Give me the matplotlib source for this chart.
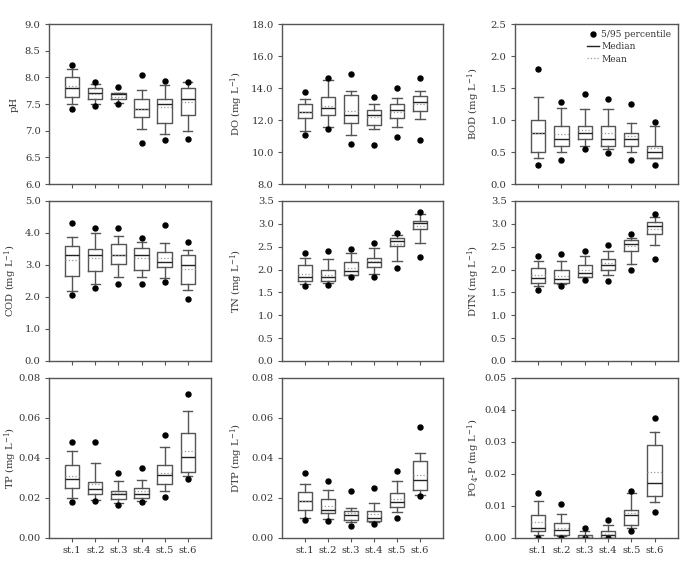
import numpy as np
import matplotlib.pyplot as plt
from matplotlib.lines import Line2D
from matplotlib.ticker import MultipleLocator, FormatStrFormatter

plt.rcParams["font.family"] = "DejaVu Serif"
plt.rcParams["mathtext.fontset"] = "dejavuserif"

STATIONS = ["st.1", "st.2", "st.3", "st.4", "st.5", "st.6"]

# each row: whisker low, q1, median, q3, whisker high, mean, 5th pct, 95th pct
ph = [
    [7.50, 7.64, 7.80, 8.00, 8.16, 7.84, 7.41, 8.24],
    [7.50, 7.60, 7.70, 7.80, 7.88, 7.68, 7.47, 7.91],
    [7.52, 7.60, 7.69, 7.70, 7.70, 7.64, 7.50, 7.81],
    [7.04, 7.25, 7.40, 7.60, 7.76, 7.41, 6.76, 8.04],
    [6.94, 7.15, 7.50, 7.60, 7.86, 7.44, 6.82, 7.94],
    [7.00, 7.30, 7.60, 7.80, 7.92, 7.54, 6.85, 7.92],
]
do = [
    [11.33, 12.13, 12.50, 13.00, 13.33, 12.50, 11.04, 13.75],
    [11.58, 12.29, 12.75, 13.46, 14.50, 12.88, 11.46, 14.63],
    [11.08, 11.79, 12.29, 13.54, 13.79, 12.54, 10.50, 14.88],
    [11.46, 11.71, 12.33, 12.63, 13.00, 12.21, 10.46, 13.46],
    [11.58, 12.13, 12.63, 13.00, 13.38, 12.50, 10.92, 14.00],
    [12.04, 12.54, 13.13, 13.50, 13.83, 13.00, 10.75, 14.63],
]
bod = [
    [0.40, 0.50, 0.80, 1.00, 1.36, 0.80, 0.30, 1.80],
    [0.50, 0.60, 0.70, 0.90, 1.18, 0.78, 0.375, 1.28],
    [0.60, 0.70, 0.80, 0.90, 1.17, 0.85, 0.55, 1.41],
    [0.55, 0.60, 0.70, 0.90, 1.17, 0.79, 0.48, 1.33],
    [0.50, 0.60, 0.70, 0.80, 0.96, 0.75, 0.375, 1.25],
    [0.40, 0.40, 0.50, 0.60, 0.90, 0.56, 0.30, 0.97],
]
cod = [
    [2.18, 2.65, 3.30, 3.59, 3.87, 3.17, 2.05, 4.31],
    [2.42, 2.80, 3.30, 3.50, 4.00, 3.21, 2.29, 4.15],
    [2.62, 3.04, 3.30, 3.65, 3.90, 3.30, 2.39, 4.15],
    [2.63, 2.85, 3.30, 3.54, 3.71, 3.21, 2.39, 3.83],
    [2.60, 2.94, 3.09, 3.40, 3.69, 3.21, 2.47, 4.26],
    [2.23, 2.39, 3.00, 3.30, 3.46, 2.88, 1.94, 3.71],
]
tn = [
    [1.68, 1.74, 1.84, 2.09, 2.26, 1.91, 1.65, 2.37],
    [1.70, 1.75, 1.83, 2.00, 2.22, 1.88, 1.67, 2.40],
    [1.87, 1.88, 1.97, 2.16, 2.36, 2.04, 1.83, 2.45],
    [1.90, 2.06, 2.16, 2.26, 2.47, 2.19, 1.84, 2.58],
    [2.18, 2.51, 2.63, 2.69, 2.76, 2.55, 2.04, 2.79],
    [2.57, 2.89, 3.02, 3.06, 3.21, 2.95, 2.27, 3.25],
]
dtn = [
    [1.64, 1.71, 1.81, 2.03, 2.18, 1.87, 1.56, 2.30],
    [1.69, 1.71, 1.80, 1.99, 2.18, 1.86, 1.64, 2.33],
    [1.83, 1.84, 1.93, 2.10, 2.29, 1.99, 1.78, 2.40],
    [1.87, 2.00, 2.10, 2.23, 2.41, 2.15, 1.76, 2.54],
    [2.13, 2.41, 2.56, 2.64, 2.70, 2.51, 1.99, 2.77],
    [2.54, 2.78, 2.96, 3.03, 3.14, 2.89, 2.22, 3.22],
]
tp = [
    [0.0200, 0.0252, 0.0293, 0.0363, 0.0437, 0.0310, 0.0180, 0.0482],
    [0.0192, 0.0222, 0.0247, 0.0280, 0.0377, 0.0272, 0.0187, 0.0482],
    [0.0177, 0.0197, 0.0222, 0.0235, 0.0285, 0.0227, 0.0163, 0.0327],
    [0.0185, 0.0202, 0.0222, 0.0250, 0.0288, 0.0233, 0.0180, 0.0350],
    [0.0235, 0.0272, 0.0313, 0.0367, 0.0455, 0.0327, 0.0205, 0.0517],
    [0.0312, 0.0332, 0.0403, 0.0527, 0.0637, 0.0433, 0.0293, 0.0722],
]
dtp = [
    [0.0098, 0.0142, 0.0183, 0.0230, 0.0268, 0.0185, 0.0090, 0.0323],
    [0.0095, 0.0125, 0.0142, 0.0195, 0.0238, 0.0162, 0.0083, 0.0287],
    [0.0078, 0.0092, 0.0117, 0.0137, 0.0150, 0.0123, 0.0060, 0.0237],
    [0.0078, 0.0087, 0.0102, 0.0137, 0.0177, 0.0120, 0.0070, 0.0248],
    [0.0130, 0.0157, 0.0182, 0.0227, 0.0285, 0.0193, 0.0100, 0.0333],
    [0.0213, 0.0242, 0.0292, 0.0385, 0.0427, 0.0317, 0.0212, 0.0557],
]
po4 = [
    [0.0009, 0.0021, 0.0031, 0.0071, 0.0117, 0.0051, 0.0000, 0.0142],
    [0.0005, 0.0010, 0.0024, 0.0048, 0.0075, 0.0032, 0.0000, 0.0106],
    [0.0000, 0.0000, 0.0000, 0.0010, 0.0023, 0.0005, 0.0000, 0.0032],
    [0.0000, 0.0000, 0.0010, 0.0021, 0.0041, 0.0014, 0.0000, 0.0055],
    [0.0031, 0.0041, 0.0071, 0.0086, 0.0142, 0.0077, 0.0023, 0.0148],
    [0.0111, 0.0131, 0.0171, 0.0292, 0.0331, 0.0205, 0.0080, 0.0375],
]

# label, data, ymin, ymax, major step, tick format
panels = [
    ("pH", ph, 6.0, 9.0, 0.5, "%.1f"),
    ("DO (mg L$^{-1}$)", do, 8.0, 18.0, 2.0, "%.1f"),
    ("BOD (mg L$^{-1}$)", bod, 0.0, 2.5, 0.5, "%.1f"),
    ("COD (mg L$^{-1}$)", cod, 0.0, 5.0, 1.0, "%.1f"),
    ("TN (mg L$^{-1}$)", tn, 0.0, 3.5, 0.5, "%.1f"),
    ("DTN (mg L$^{-1}$)", dtn, 0.0, 3.5, 0.5, "%.1f"),
    ("TP (mg L$^{-1}$)", tp, 0.0, 0.08, 0.02, "%.2f"),
    ("DTP (mg L$^{-1}$)", dtp, 0.0, 0.08, 0.02, "%.2f"),
    ("PO$_4$-P (mg L$^{-1}$)", po4, 0.0, 0.05, 0.01, "%.2f"),
]

edge = "#555555"
txt = "#333333"
fs = 7.2

fig = plt.figure(figsize=(6.84, 5.65), dpi=100)
lefts = [0.0716, 0.4123, 0.7529]
widths = [0.2368, 0.2354, 0.238]
bottoms = [0.6743, 0.3611, 0.0478]
label_x = [-0.185, -0.23, -0.2]

for k, (ylab, rows, y0, y1, step, fmt) in enumerate(panels):
    r, c = divmod(k, 3)
    ax = fig.add_axes([lefts[c], bottoms[r], widths[c], 0.2832])
    stats = []
    for row in rows:
        lo, q1, med, q3, hi, mean, p5, p95 = row
        stats.append(dict(whislo=lo, q1=q1, med=med, q3=q3, whishi=hi,
                          mean=mean, fliers=np.array([p5, p95])))
    ax.bxp(stats, positions=np.arange(1, 7), widths=0.62, capwidths=0.4,
           showmeans=True, meanline=True,
           boxprops=dict(color=edge, lw=1.0),
           whiskerprops=dict(color=edge, lw=1.0),
           capprops=dict(color=edge, lw=1.0),
           medianprops=dict(color="#222222", lw=1.0),
           meanprops=dict(color="#999999", lw=0.9, ls=":"),
           flierprops=dict(marker="o", markersize=3.6, markerfacecolor="black",
                           markeredgecolor="black", ls="none"))
    ax.set_xlim(0, 7)
    ax.set_ylim(y0, y1)
    ax.yaxis.set_major_locator(MultipleLocator(step))
    ax.yaxis.set_major_formatter(FormatStrFormatter(fmt))
    ax.set_xticks(np.arange(1, 7))
    if r == 2:
        ax.set_xticklabels(STATIONS)
    else:
        ax.set_xticklabels([])
    for s in ax.spines.values():
        s.set_color(edge)
        s.set_linewidth(1.0)
    ax.tick_params(axis="both", direction="out", length=3, width=0.8,
                   color=edge, labelcolor=txt, labelsize=fs, pad=3)
    ax.set_ylabel(ylab, fontsize=fs, color=txt)
    ax.yaxis.set_label_coords(label_x[c], 0.5)

    if k == 2:
        handles = [
            Line2D([], [], marker="o", ls="none", color="black", markersize=3.6),
            Line2D([], [], color="#222222", lw=1.0),
            Line2D([], [], color="#999999", lw=0.9, ls=":"),
        ]
        leg = ax.legend(handles, ["5/95 percentile", "Median", "Mean"],
                        loc="upper right", frameon=False, fontsize=6.5,
                        handlelength=1.3, handletextpad=0.3,
                        labelspacing=0.35, borderaxespad=0.3)
        for t in leg.get_texts():
            t.set_color(txt)

plt.savefig("out.png", dpi=100)
